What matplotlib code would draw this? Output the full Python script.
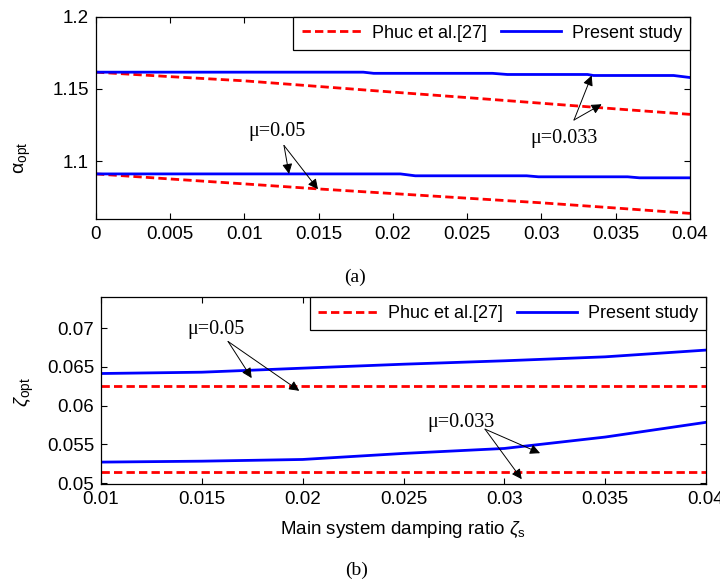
import numpy as np
import matplotlib
matplotlib.use("Agg")
import matplotlib.pyplot as plt
from matplotlib.ticker import FormatStrFormatter

plt.rcParams['font.family'] = ['Liberation Sans', 'DejaVu Sans']
plt.rcParams['mathtext.fontset'] = 'custom'
plt.rcParams['mathtext.rm'] = 'Liberation Sans'
plt.rcParams['mathtext.it'] = 'Liberation Sans:italic'

# ---- data, panel (a): optimal frequency ratio vs main system damping ----
xs_red_a = [0, 0.005, 0.01, 0.015, 0.02, 0.025, 0.03, 0.035, 0.04]
alpha_phuc_033 = [1.1616, 1.1585, 1.1556, 1.1517, 1.1478, 1.1440, 1.1401, 1.1362, 1.1324]
alpha_phuc_05 = [1.0912, 1.0877, 1.0843, 1.0808, 1.0776, 1.0744, 1.0712, 1.0676, 1.0639]

xs_blue_033 = [0, 0.018, 0.0187, 0.0267, 0.0277, 0.0331, 0.0335, 0.0389, 0.04]
alpha_present_033 = [1.1616, 1.1616, 1.1608, 1.1608, 1.1600, 1.1600, 1.1593, 1.1593, 1.1579]
xs_blue_05 = [0, 0.0205, 0.0215, 0.029, 0.0298, 0.0358, 0.0366, 0.04]
alpha_present_05 = [1.0912, 1.0912, 1.0899, 1.0899, 1.0892, 1.0892, 1.0885, 1.0885]

# ---- data, panel (b): optimal damping ratio ----
xs_b = [0.01, 0.015, 0.02, 0.025, 0.03, 0.035, 0.04]
zeta_present_05 = [0.06414, 0.06431, 0.06483, 0.06534, 0.06578, 0.06629, 0.06716]
zeta_present_033 = [0.05272, 0.05284, 0.05306, 0.05384, 0.05448, 0.05595, 0.05785]
zeta_phuc_05 = [0.0625] * len(xs_b)
zeta_phuc_033 = [0.0515] * len(xs_b)

RED = '#ff0000'
BLUE = '#0000ff'
LW = 2.0
DASH = (3, 1.5)

fig = plt.figure(figsize=(7.2, 5.87), dpi=100)
ax1 = fig.add_axes([0.1333, 0.6269, 0.825, 0.3447])
ax2 = fig.add_axes([0.1403, 0.1755, 0.8403, 0.3185])

# panel (a)
ax1.plot(xs_red_a, alpha_phuc_033, color=RED, lw=LW, dashes=DASH, label='Phuc et al.[27]')
ax1.plot(xs_blue_033, alpha_present_033, color=BLUE, lw=LW, label='Present study')
ax1.plot(xs_red_a, alpha_phuc_05, color=RED, lw=LW, dashes=DASH)
ax1.plot(xs_blue_05, alpha_present_05, color=BLUE, lw=LW)
ax1.set_xlim(0, 0.04)
ax1.set_ylim(1.06, 1.2)
ax1.set_xticks(np.arange(0, 0.0401, 0.005))
ax1.set_yticks([1.1, 1.15, 1.2])
ax1.set_ylabel(r'α$_{\rm opt}$', fontsize=14)
ax1.yaxis.set_label_coords(-0.106, 0.30)

# panel (b)
ax2.plot(xs_b, zeta_phuc_05, color=RED, lw=LW, dashes=DASH, label='Phuc et al.[27]')
ax2.plot(xs_b, zeta_present_05, color=BLUE, lw=LW, label='Present study')
ax2.plot(xs_b, zeta_phuc_033, color=RED, lw=LW, dashes=DASH)
ax2.plot(xs_b, zeta_present_033, color=BLUE, lw=LW)
ax2.set_xlim(0.01, 0.04)
ax2.set_ylim(0.0499, 0.074)
ax2.set_xticks(np.arange(0.01, 0.0401, 0.005))
ax2.set_yticks([0.05, 0.055, 0.06, 0.065, 0.07])
ax2.set_ylabel(r'$\zeta_{\rm opt}$', fontsize=14)
ax2.yaxis.set_label_coords(-0.108, 0.49)
ax2.set_xlabel(r'Main system damping ratio $\zeta_{\rm s}$', fontsize=13.5, labelpad=8)

for ax in (ax1, ax2):
    ax.xaxis.set_major_formatter(FormatStrFormatter('%g'))
    ax.yaxis.set_major_formatter(FormatStrFormatter('%g'))
    ax.tick_params(direction='in', top=True, right=True, length=4, width=0.8,
                   labelsize=13.5, pad=5)
    for sp in ax.spines.values():
        sp.set_linewidth(0.9)
    leg = ax.legend(loc='upper right', ncol=2, fontsize=13, frameon=True,
                    fancybox=False, framealpha=1, edgecolor='black',
                    borderaxespad=0, handlelength=3.3, handletextpad=0.6,
                    columnspacing=0.8, borderpad=0.45)
    leg.get_frame().set_linewidth(0.9)

arrow = dict(arrowstyle='-|>', color='black', lw=0.7, mutation_scale=15,
             shrinkA=0, shrinkB=0)
serif = dict(family=['Liberation Serif', 'DejaVu Serif'], fontsize=14.5,
             ha='center', va='center')

# annotations panel (a)
ax1.text(0.01219, 1.1206, 'μ=0.05', **serif)
ax1.annotate('', xy=(0.0130, 1.0912), xytext=(0.01266, 1.1109), arrowprops=arrow)
ax1.annotate('', xy=(0.01495, 1.0806), xytext=(0.01266, 1.1109), arrowprops=arrow)
ax1.text(0.03152, 1.1158, 'μ=0.033', **serif)
ax1.annotate('', xy=(0.03338, 1.1593), xytext=(0.03219, 1.1285), arrowprops=arrow)
ax1.annotate('', xy=(0.03405, 1.1394), xytext=(0.03219, 1.1285), arrowprops=arrow)

# annotations panel (b)
ax2.text(0.0157, 0.06987, 'μ=0.05', **serif)
ax2.annotate('', xy=(0.01747, 0.06355), xytext=(0.0163, 0.06827), arrowprops=arrow)
ax2.annotate('', xy=(0.01983, 0.06191), xytext=(0.0163, 0.06827), arrowprops=arrow)
ax2.text(0.02783, 0.05782, 'μ=0.033', **serif)
ax2.annotate('', xy=(0.03177, 0.05387), xytext=(0.02904, 0.05697), arrowprops=arrow)
ax2.annotate('', xy=(0.03086, 0.05052), xytext=(0.02904, 0.05697), arrowprops=arrow)

fig.text(355 / 720, 1 - 277 / 587, '(a)', family=['Liberation Serif', 'DejaVu Serif'],
         fontsize=14, ha='center', va='center')
fig.text(357 / 720, 1 - 570 / 587, '(b)', family=['Liberation Serif', 'DejaVu Serif'],
         fontsize=14, ha='center', va='center')

fig.savefig('out.png', dpi=100)
